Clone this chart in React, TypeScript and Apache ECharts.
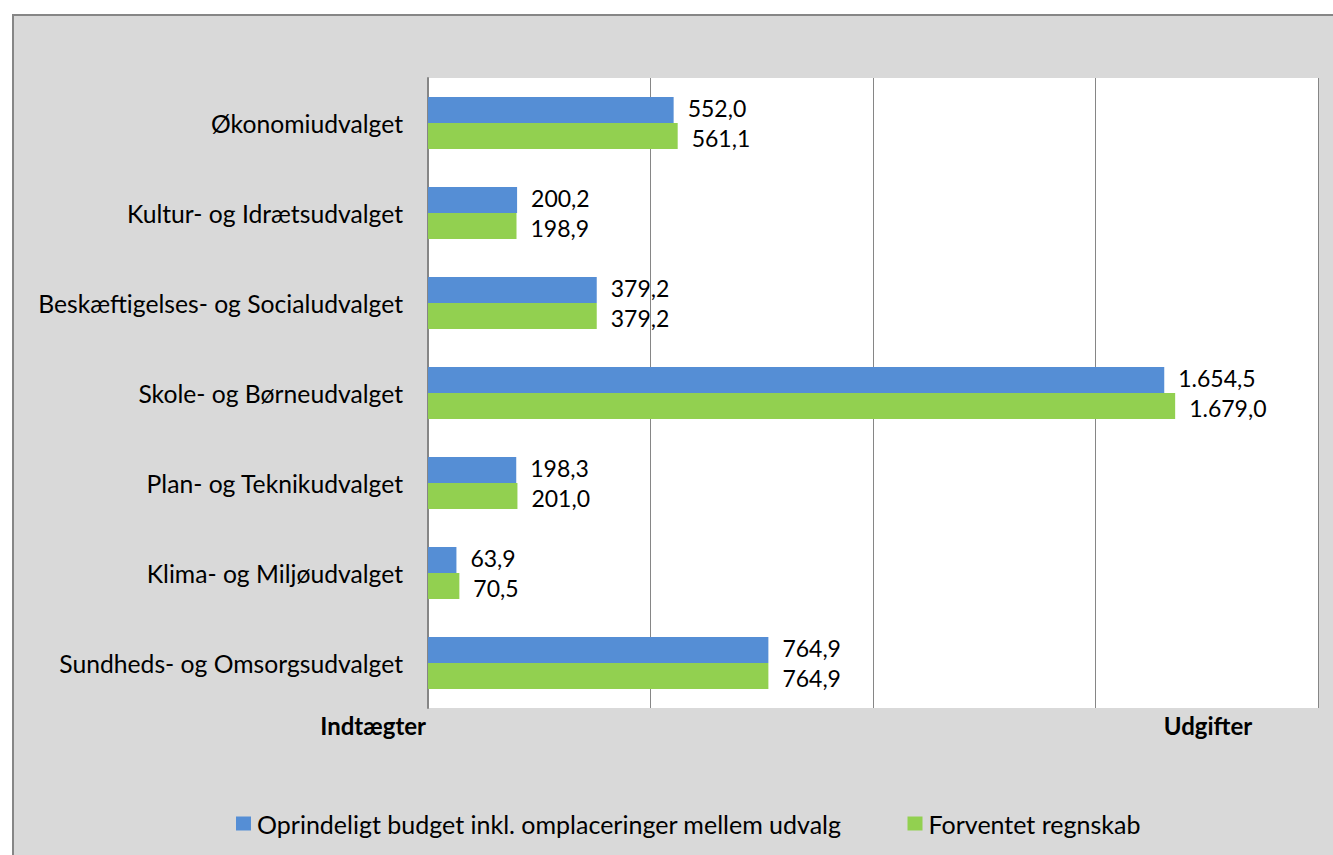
import React, { useEffect, useRef } from "react";
import * as echarts from "echarts";

const categories = [
  "Økonomiudvalget",
  "Kultur- og Idrætsudvalget",
  "Beskæftigelses- og Socialudvalget",
  "Skole- og Børneudvalget",
  "Plan- og Teknikudvalget",
  "Klima- og Miljøudvalget",
  "Sundheds- og Omsorgsudvalget",
];
const budgetName = "Oprindeligt budget inkl. omplaceringer mellem udvalg";
const forecastName = "Forventet regnskab";
const budgetValues = [552.0, 200.2, 379.2, 1654.5, 198.3, 63.9, 764.9];
const forecastValues = [561.1, 198.9, 379.2, 1679.0, 201.0, 70.5, 764.9];
const axisMinLabel = "Indtægter";
const axisMaxLabel = "Udgifter";

const FONT = "Lato, 'Open Sans', sans-serif";

function fmt(v: number): string {
  const fixed = v.toFixed(1);
  const [intPart, dec] = fixed.split(".");
  const withDots = intPart.replace(/\B(?=(\d{3})+(?!\d))/g, ".");
  return withDots + "," + dec;
}

export default function App() {
  const ref = useRef<HTMLDivElement>(null);
  useEffect(() => {
    document.body.style.margin = "0";
    const chart = echarts.init(ref.current!, undefined, { renderer: "svg" });
    const labelCommon = {
      show: true,
      position: "right" as const,
      distance: 14,
      fontSize: 23,
      lineHeight: 23,
      fontFamily: FONT,
      color: "#000",
      formatter: (p: any) => fmt(p.value),
    };
    chart.setOption({
      animation: false,
      backgroundColor: "#ffffff",
      graphic: [
        {
          type: "rect",
          z: -10,
          shape: { x: 13, y: 15, width: 1340, height: 860 },
          style: { fill: "#d9d9d9", stroke: "#868686", lineWidth: 2 },
        },
        {
          type: "text",
          x: 426,
          y: 725,
          style: {
            text: axisMinLabel,
            fontSize: 24,
            fontWeight: "bold",
            fontFamily: FONT,
            fill: "#000",
            align: "right",
            verticalAlign: "middle",
          },
        },
        {
          type: "text",
          x: 1208,
          y: 725,
          style: {
            text: axisMaxLabel,
            fontSize: 24,
            fontWeight: "bold",
            fontFamily: FONT,
            fill: "#000",
            align: "center",
            verticalAlign: "middle",
          },
        },
      ],
      grid: {
        left: 428,
        top: 78,
        width: 890,
        height: 630,
        show: true,
        backgroundColor: "#ffffff",
        borderWidth: 0,
      },
      legend: {
        left: 231,
        top: 806,
        itemWidth: 15,
        itemHeight: 14,
        itemGap: 66,
        icon: "rect",
        textStyle: { fontSize: 25, fontFamily: FONT, color: "#000", padding: [0, 0, 0, 1] },
        data: [budgetName, forecastName],
      },
      xAxis: {
        type: "value",
        min: 0,
        max: 2000,
        interval: 500,
        axisLine: { show: false },
        axisTick: { show: false },
        axisLabel: { show: false },
        splitLine: { show: true, lineStyle: { color: "#868686", width: 1 } },
      },
      yAxis: {
        type: "category",
        inverse: true,
        data: categories,
        axisLine: { show: true, lineStyle: { color: "#868686", width: 2 } },
        axisTick: { show: false },
        axisLabel: { fontSize: 24.7, fontFamily: FONT, color: "#000", margin: 25 },
      },
      series: [
        {
          name: budgetName,
          type: "bar",
          data: budgetValues,
          barWidth: 26,
          barGap: "0%",
          itemStyle: { color: "#558ed5" },
          label: { ...labelCommon, offset: [0, -2] },
        },
        {
          name: forecastName,
          type: "bar",
          data: forecastValues,
          barWidth: 26,
          barGap: "0%",
          itemStyle: { color: "#92d050" },
          label: { ...labelCommon, offset: [0, 2] },
        },
      ],
    });
    return () => chart.dispose();
  }, []);
  return (
    <div
      ref={ref}
      style={{ position: "absolute", left: 0, top: 0, width: 1333, height: 855 }}
    />
  );
}
